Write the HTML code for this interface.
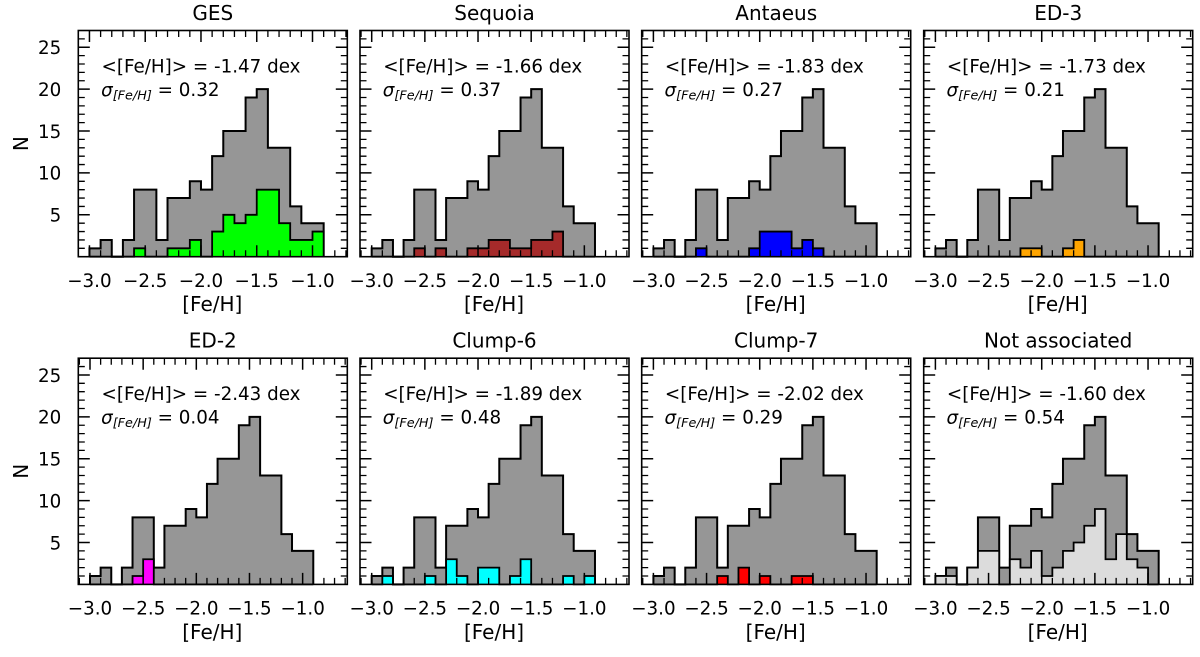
<!DOCTYPE html>
<html lang="en">
<head>
<meta charset="utf-8">
<title>Metallicity histograms</title>
<style>
html,body{margin:0;padding:0;background:#fff;}
#figure{display:block;width:1200px;height:657px;font-family:"DejaVu Sans","Liberation Sans",sans-serif;}
</style>
</head>
<body>
<svg id="figure" xmlns="http://www.w3.org/2000/svg" width="1200" height="657" viewBox="0 0 1200 657"></svg>
<script>
// ---- chart data ----
const binStart = -3.0;
const binWidth = 0.1;
const allStars = [1,2,0,2,8,8,2,7,7,9,8,12,15,15,19,20,13,13,6,4,4];
const titles = ["GES","Sequoia","Antaeus","ED-3","ED-2","Clump-6","Clump-7","Not associated"];
const meanLabels = ["-1.47","-1.66","-1.83","-1.73","-2.43","-1.89","-2.02","-1.60"];
const sigmaLabels = ["0.32","0.37","0.27","0.21","0.04","0.48","0.29","0.54"];
const ges      = [0,0,0,0,1,0,0,1,1,2,0,3,5,4,5,8,8,4,2,2,3];
const sequoia  = [0,0,0,0,1,0,1,0,0,1,1,2,2,1,1,2,2,3,0,0,0];
const antaeus  = [0,0,0,0,1,0,0,0,0,1,3,3,3,1,2,1,0,0,0,0,0];
const ed3      = [0,0,0,0,0,0,0,0,1,1,0,0,1,2,0,0,0,0,0,0,0];
const ed2      = [0,0,0,0,1,3,0,0,0,0,0,0,0,0,0,0,0,0,0,0,0];
const clump6   = [0,1,0,0,0,1,0,3,1,0,2,2,0,1,3,0,0,0,1,0,1];
const clump7   = [0,0,0,0,0,0,1,0,2,0,1,0,0,1,1,0,0,0,0,0,0];
const notAssoc = [1,1,0,2,4,4,0,3,2,4,1,2,4,5,7,9,3,6,3,2,0];
const subsets = [ges,sequoia,antaeus,ed3,ed2,clump6,clump7,notAssoc];
const xMinima = [-3.1,-3.11,-3.11,-3.11,-3.11,-3.11,-3.11,-3.11];
const xMaxima = [-0.688,-0.58,-0.58,-0.58,-0.58,-0.58,-0.58,-0.58];
const yMaximum = 27;
const xTickLabels = [-3.0,-2.5,-2.0,-1.5,-1.0];
const yTickLabels = [5,10,15,20,25];

// ---- styling and layout ----
const subsetColors = ["#00ff00","#a52a2a","#0000ff","#ffa500","#ff00ff","#00ffff","#ff0000","#dcdcdc"];
const greyFill = "#969696";
const panelLefts = [78.3,360.0,641.7,923.7];
const panelTops = [30.5,358.2];
const panelW = 269.0;
const panelH = 226.2;

const NS = "http://www.w3.org/2000/svg";
const svg = document.getElementById("figure");

function add(parent, tag, attrs, text) {
  const el = document.createElementNS(NS, tag);
  for (const k in attrs) el.setAttribute(k, attrs[k]);
  if (text !== undefined) el.textContent = text;
  parent.appendChild(el);
  return el;
}

function stepPath(values, xf, yf, closed) {
  let d = "M" + xf(binStart).toFixed(2) + " " + yf(0).toFixed(2);
  values.forEach(function (v, i) {
    const x0 = xf(binStart + i * binWidth).toFixed(2);
    const x1 = xf(binStart + (i + 1) * binWidth).toFixed(2);
    const y = yf(v).toFixed(2);
    d += "L" + x0 + " " + y + "L" + x1 + " " + y;
  });
  d += "L" + xf(binStart + values.length * binWidth).toFixed(2) + " " + yf(0).toFixed(2);
  return closed ? d + "Z" : d;
}

titles.forEach(function (title, p) {
  const col = p % 4;
  const row = Math.floor(p / 4);
  const left = panelLefts[col];
  const top = panelTops[row];
  const right = left + panelW;
  const bottom = top + panelH;
  const xMin = xMinima[p];
  const xMax = xMaxima[p];
  const xf = function (v) { return left + (v - xMin) / (xMax - xMin) * panelW; };
  const yf = function (v) { return bottom - v / yMaximum * panelH; };

  const g = add(svg, "g", {});
  
  

  const allFill = add(g, "path", {d: stepPath(allStars, xf, yf, true), fill: greyFill, stroke: "none"});
  
  

  const allLine = add(g, "path", {d: stepPath(allStars, xf, yf, false), fill: "none", stroke: "#000", "stroke-width": 2, "stroke-linejoin": "miter"});
  
  

  const subFill = add(g, "path", {d: stepPath(subsets[p], xf, yf, true), fill: subsetColors[p], stroke: "none"});
  
  

  const subLine = add(g, "path", {d: stepPath(subsets[p], xf, yf, false), fill: "none", stroke: "#000", "stroke-width": 1.8, "stroke-linejoin": "miter"});
  
  

  // x ticks, top and bottom
  let dMajor = "";
  let dMinor = "";
  const firstTenth = Math.ceil(xMin * 10);
  const lastTenth = Math.floor(xMax * 10);
  for (let t = firstTenth; t <= lastTenth; t++) {
    const x = xf(t / 10).toFixed(2);
    if (t % 5 === 0) dMajor += "M" + x + " " + bottom.toFixed(2) + "v-11.5M" + x + " " + top + "v11.5";
    else dMinor += "M" + x + " " + bottom.toFixed(2) + "v-6.5M" + x + " " + top + "v6.5";
  }
  // y ticks, left and right
  for (let n = 1; n < yMaximum; n++) {
    const y = yf(n).toFixed(2);
    if (n % 5 === 0) dMajor += "M" + left + " " + y + "h11.5M" + right.toFixed(2) + " " + y + "h-11.5";
    else dMinor += "M" + left + " " + y + "h6.5M" + right.toFixed(2) + " " + y + "h-6.5";
  }
  const majorTicks = add(g, "path", {d: dMajor, stroke: "#000", "stroke-width": 1.5, fill: "none"});
  
  
  const minorTicks = add(g, "path", {d: dMinor, stroke: "#000", "stroke-width": 1.3, fill: "none"});
  
  

  const frame = add(g, "rect", {x: left, y: top, width: panelW, height: panelH, fill: "none", stroke: "#000", "stroke-width": 1.6});
  
  

  const titleEl = add(g, "text", {x: left + panelW / 2, y: top - 10.5, "text-anchor": "middle", "font-size": 20, fill: "#000"}, title);
  
  

  xTickLabels.forEach(function (v) {
    const label = "\u2212" + Math.abs(v).toFixed(1);
    const tickText = add(g, "text", {x: xf(v), y: bottom + 30.3, "text-anchor": "middle", "font-size": 18.3, fill: "#000"}, label);
    
    
  });

  const xTitle = add(g, "text", {x: left + panelW / 2 - 0.5, y: bottom + 54.5, "text-anchor": "middle", "font-size": 20, fill: "#000"}, "[Fe/H]");
  
  

  if (col === 0) {
    yTickLabels.forEach(function (v) {
      const yText = add(g, "text", {x: left - 17, y: yf(v) + 6.8, "text-anchor": "end", "font-size": 18.3, fill: "#000"}, String(v));
      
      
    });
    const cy = top + panelH / 2;
    const yTitle = add(g, "text", {x: 0, y: 0, "text-anchor": "middle", "font-size": 20, fill: "#000", transform: "translate(28 " + cy + ") rotate(-90)"}, "N");
    
    
  }

  const meanText = add(g, "text", {x: left + 23.2, y: top + 42, "font-size": 18.3, fill: "#000"}, "<[Fe/H]> = " + meanLabels[p] + " dex");
  
  

  const sigmaText = add(g, "text", {x: left + 22.8, y: top + 65.5, "font-size": 18.3, fill: "#000"});
  
  
  add(sigmaText, "tspan", {"font-style": "italic"}, "\u03c3");
  add(sigmaText, "tspan", {"font-style": "italic", "font-size": 12.8, dy: 3.4}, "[Fe/H]");
  add(sigmaText, "tspan", {dy: -3.4}, " = " + sigmaLabels[p]);
});
</script>
</body>
</html>
